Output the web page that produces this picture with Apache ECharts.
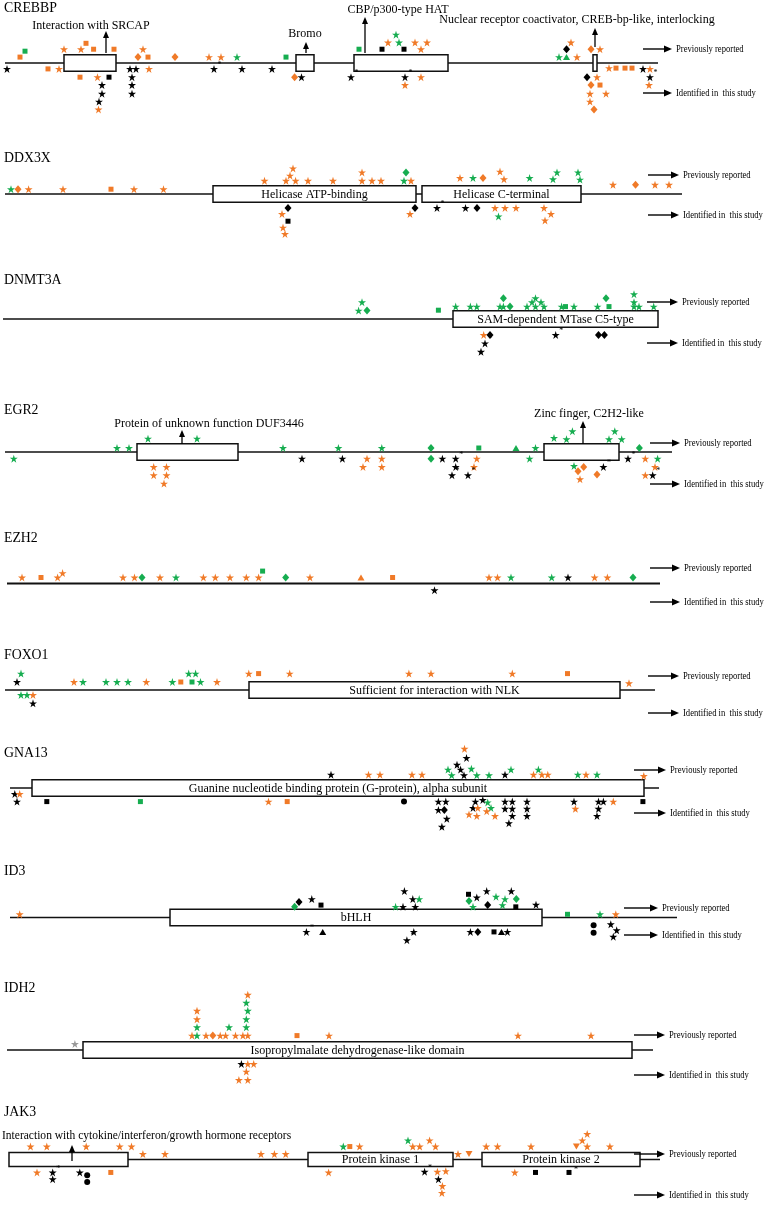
<!DOCTYPE html>
<html><head><meta charset="utf-8">
<script src="https://cdn.jsdelivr.net/npm/echarts/dist/echarts.min.js"></script>
<style>html,body{margin:0;padding:0;background:#fff}#c{width:768px;height:1214px}</style>
</head><body><div id="c"></div>
<script>
// ---- DATA: [position, stack level (+ above = previously reported, - below = this study), shape, colour, asterisk] ----
const CREBBP_line = [5, 658];
const CREBBP_domains = [[64,116,''],[296,314,''],[354,448,''],[593,597,'']];
const CREBBP_muts = [
[20,0.75,'sq','o'],[25,1.5,'sq','g'],[64,1.75,'st','o'],[81,1.75,'st','o'],[86,2.5,'sq','o'],[93.6,1.75,'sq','o'],[114,1.75,'sq','o'],
[143,1.75,'st','o'],[138,0.75,'di','o'],[148,0.75,'sq','o'],[175,0.75,'di','o'],[209,0.75,'st','o'],[221,0.75,'st','o'],[237,0.75,'st','g'],
[286,0.75,'sq','g'],[359,1.75,'sq','g'],[388,2.6,'st','o'],[396,3.6,'st','g'],[399,2.6,'st','g'],[382,1.75,'sq','k'],[404,1.75,'sq','k'],
[415,2.6,'st','o'],[427,2.6,'st','o'],[421,1.75,'st','o'],[566.5,1.75,'di','k'],[571,2.6,'st','o'],[559,0.75,'st','g'],[566.5,0.75,'tr','g'],
[577,0.75,'st','o'],[591,1.75,'di','o'],[600,1.75,'st','o'],
[609,-0.65,'st','o'],[616,-0.65,'sq','o'],[625,-0.65,'sq','o'],[632,-0.65,'sq','o'],
[7,-0.75,'st','k'],[48,-0.75,'sq','o'],[59,-0.75,'st','o'],[80,-1.8,'sq','o'],[97.5,-1.8,'st','o'],[109,-1.8,'sq','k'],
[102,-2.8,'st','k'],[102,-3.9,'st','k'],[99,-4.9,'st','k'],[98.5,-5.9,'st','o'],
[130,-0.75,'st','k'],[136,-0.75,'st','k'],[149,-0.75,'st','o'],[132,-1.8,'st','k'],[132,-2.8,'st','k'],[132,-3.9,'st','k'],
[214,-0.75,'st','k',1],[242,-0.75,'st','k'],[272,-0.75,'st','k'],[294.6,-1.8,'di','o'],[301.5,-1.8,'st','k'],
[351,-1.8,'st','k',1],[405,-1.8,'st','k',1],[421,-1.8,'st','o'],[405,-2.8,'st','o'],
[587,-1.8,'di','k'],[597,-1.8,'st','o'],[591,-2.8,'di','o'],[600,-2.8,'sq','o'],[590,-3.9,'st','o'],[606,-3.9,'st','o'],
[590,-4.9,'st','o'],[594,-5.9,'di','o'],
[643,-0.75,'st','k'],[650,-0.75,'st','o'],[650,-1.8,'st','k',1],[649,-2.8,'st','o']
];

const DDX3X_line = [5, 682];
const DDX3X_domains = [[213,416,'Helicase ATP-binding'],[422,581,'Helicase C-terminal']];
const DDX3X_muts = [
[11,0.6,'st','g'],[18,0.6,'di','o'],[28.6,0.6,'st','o'],[63,0.6,'st','o'],[111,0.6,'sq','o'],[134,0.6,'st','o'],[163.5,0.6,'st','o'],
[264.5,1.65,'st','o'],[286,1.65,'st','o'],[295.6,1.65,'st','o'],[290,2.3,'st','o'],[293,3.2,'st','o'],[308,1.65,'st','o'],[333,1.65,'st','o'],
[362,2.7,'st','o'],[362,1.65,'st','o'],[372,1.65,'st','o'],[381,1.65,'st','o'],[406,2.7,'di','g'],[404,1.65,'st','g'],[411,1.65,'st','o'],
[460,2.0,'st','o'],[473,2.0,'st','g'],[483,2.0,'di','o'],[500,2.8,'st','o'],[504,1.85,'st','o'],[529.6,2.0,'st','g'],
[557,2.7,'st','g'],[553,1.85,'st','g'],[578,2.7,'st','g'],[580,1.8,'st','g'],
[613,1.15,'st','o'],[635.5,1.15,'di','o'],[655,1.15,'st','o'],[669,1.15,'st','o'],
[288,-1.75,'di','k'],[282,-2.5,'st','o'],[288,-3.4,'sq','k'],[283,-4.2,'st','o'],[285,-5,'st','o'],
[415,-1.75,'di','k'],[410,-2.5,'st','o'],[437,-1.75,'st','k',1],[465.5,-1.75,'st','k'],[477,-1.75,'di','k'],
[495,-1.75,'st','o'],[505,-1.75,'st','o'],[516,-1.75,'st','o'],[498.5,-2.8,'st','g'],
[544,-1.75,'st','o'],[551,-2.5,'st','o'],[545,-3.3,'st','o']
];

const DNMT3A_line = [3, 658];
const DNMT3A_domains = [[453,658,'SAM-dependent MTase C5-type']];
const DNMT3A_muts = [
[362,2.1,'st','g'],[358.6,1.05,'st','g'],[367,1.05,'di','g'],[438.4,1.1,'sq','g'],
[455.7,1.55,'st','g'],[470.4,1.55,'st','g'],[476.8,1.55,'st','g'],
[503.4,2.6,'di','g'],[500,1.55,'st','g'],[503.4,1.55,'st','g'],[510,1.55,'di','g'],
[527,1.55,'st','g'],[532,2.1,'st','g'],[535.5,2.6,'st','g'],[535.5,1.55,'st','g'],[541,2.1,'st','g'],[544,1.55,'st','g'],
[561.6,1.55,'st','g'],[565.5,1.55,'sq','g'],[574,1.55,'st','g'],[597.5,1.55,'st','g'],[606,2.6,'di','g'],[609,1.55,'sq','g'],
[634,3.1,'st','g'],[634,2.1,'st','g'],[634,1.55,'st','g'],[639,1.55,'st','g'],[653.7,1.55,'st','g'],
[483.7,-2.0,'st','o'],[490,-2.0,'di','k'],[485,-3.05,'st','k',1],[481,-4.1,'st','k'],[555.7,-2.0,'st','k',1],
[598.5,-2.0,'di','k'],[604.4,-2.0,'di','k']
];

const EGR2_line = [5, 672];
const EGR2_domains = [[137,238,''],[544,619,'']];
const EGR2_muts = [
[13.8,-0.83,'st','g'],[117,0.5,'st','g'],[129,0.5,'st','g'],[148,1.67,'st','g'],[197,1.67,'st','g'],
[283,0.5,'st','g'],[338.4,0.5,'st','g'],[381.8,0.5,'st','g'],[431,0.5,'di','g'],[478.8,0.5,'sq','g'],[516,0.5,'tr','g'],[535.5,0.5,'st','g'],
[554,1.75,'st','g'],[566.5,1.6,'st','g'],[572.4,2.6,'st','g'],[614.8,2.6,'st','g'],[609,1.6,'st','g'],[621.7,1.6,'st','g'],[639.4,0.5,'di','g'],
[153.7,-1.87,'st','o'],[166.5,-1.87,'st','o'],[153.7,-2.9,'st','o'],[166.5,-2.9,'st','o'],[164,-3.95,'st','o'],
[302,-0.83,'st','k'],[342.4,-0.83,'st','k'],[367,-0.83,'st','o'],[381.8,-0.83,'st','o'],[363,-1.87,'st','o'],[381.8,-1.87,'st','o'],
[431,-0.83,'di','g'],[442.4,-0.83,'st','k'],[455.7,-0.83,'st','k',1],[476.8,-0.83,'st','o'],[455.7,-1.87,'st','k'],[474,-1.87,'st','o'],
[452,-2.9,'st','k',1],[468,-2.9,'st','k',1],[529.6,-0.83,'st','g'],
[574,-1.75,'st','g'],[583.7,-1.87,'di','o'],[578,-2.4,'di','o'],[597,-2.8,'di','o'],[580,-3.4,'st','o'],[603.4,-1.87,'st','k',1],
[628,-0.83,'st','k',1],[645.3,-0.83,'st','o'],[657.6,-0.83,'st','g'],[655,-1.87,'st','o'],[645.3,-2.9,'st','o'],[652.7,-2.9,'st','k',1]
];

const EZH2_line = [7, 660];
const EZH2_domains = [];
const EZH2_muts = [
[22,0.75,'st','o'],[41,0.75,'sq','o'],[57.6,0.75,'st','o'],[62.6,1.3,'st','o'],[123,0.75,'st','o'],[134.5,0.75,'st','o'],[142,0.75,'di','g'],
[160,0.75,'st','o'],[176,0.75,'st','g'],[203.4,0.75,'st','o'],[215.3,0.75,'st','o'],[230,0.75,'st','o'],[246.3,0.75,'st','o'],[258.6,0.75,'st','o'],
[262.6,1.55,'sq','g'],[285.7,0.75,'di','g'],[310,0.75,'st','o'],[361,0.75,'tr','o'],[392.6,0.75,'sq','o'],
[489,0.75,'st','o'],[497.5,0.75,'st','o'],[511,0.75,'st','g'],[551.7,0.75,'st','g'],[568,0.75,'st','k'],
[594.6,0.75,'st','o'],[607.4,0.75,'st','o'],[633,0.75,'di','g'],
[434.5,-0.84,'st','k']
];

const FOXO1_line = [5, 655];
const FOXO1_domains = [[249,620,'Sufficient for interaction with NLK']];
const FOXO1_muts = [
[21,2.05,'st','g'],[17,1.0,'st','k'],[74,1.0,'st','o'],[83,1.0,'st','g'],[106,1.0,'st','g'],[117,1.0,'st','g'],[128,1.0,'st','g'],[146.3,1.0,'st','o'],
[172.4,1.0,'st','g'],[180.8,1.0,'sq','o'],[188.7,2.05,'st','g'],[195.6,2.05,'st','g'],[192,1.0,'sq','g'],[200.5,1.0,'st','g'],[217,1.0,'st','o'],
[248.8,2.05,'st','o'],[258.6,2.05,'sq','o'],[289.7,2.05,'st','o'],[408.9,2.05,'st','o'],[431,2.05,'st','o'],[512.3,2.05,'st','o'],[567.5,2.05,'sq','o'],
[629,0.85,'st','o'],
[21,-0.62,'st','g'],[27,-0.62,'st','g'],[33,-0.62,'st','o'],[33,-1.67,'st','k']
];

const GNA13_line = [10, 659];
const GNA13_domains = [[32,644,'Guanine nucleotide binding protein (G-protein), alpha subunit']];
const GNA13_muts = [
[331,1.67,'st','k'],[368.5,1.67,'st','o'],[380,1.67,'st','o'],[412,1.67,'st','o'],[422,1.67,'st','o'],
[448,2.3,'st','g'],[451.7,1.6,'st','g'],[457,2.9,'st','k'],[460.6,2.3,'st','k'],[464,1.6,'st','k'],[466.5,3.75,'st','k'],[464.5,4.9,'st','o'],
[471.4,2.4,'st','g'],[476.8,1.6,'st','g'],[489,1.6,'st','g'],[505,1.67,'st','k'],[511,2.3,'st','g'],
[533.5,1.67,'st','o'],[538.4,2.3,'st','g'],[541.9,1.67,'st','o'],[547.8,1.67,'st','o'],
[577.8,1.67,'st','g'],[586,1.67,'st','o'],[597,1.67,'st','g'],[643.8,1.5,'st','o'],
[14.8,-0.75,'st','k'],[19.7,-0.75,'st','o'],[17,-1.7,'st','k'],
[46.8,-1.7,'sq','k'],[140.4,-1.7,'sq','g'],[268.5,-1.7,'st','o'],[287.2,-1.7,'sq','o'],[404,-1.7,'ci','k'],
[438.4,-1.7,'st','k'],[445.8,-1.7,'st','k'],[438.4,-2.75,'st','k'],[444.3,-2.75,'di','k'],[446.8,-3.85,'st','k'],[441.9,-4.85,'st','k'],
[475.4,-1.7,'st','k'],[482.8,-1.5,'st','k'],[487.7,-1.8,'st','g'],[473,-2.5,'st','k'],[477.8,-2.5,'st','o'],[491,-2.5,'st','g'],
[486.7,-2.9,'st','o'],[469,-3.3,'st','o'],[476.8,-3.5,'st','o'],[495,-3.5,'st','o'],
[505,-1.7,'st','k'],[512.3,-1.7,'st','k'],[505,-2.6,'st','k'],[512.3,-2.6,'st','k'],[512.3,-3.5,'st','k'],[508.9,-4.4,'st','k'],
[527,-1.7,'st','k'],[527,-2.6,'st','k'],[527,-3.5,'st','k'],[574,-1.7,'st','k'],[575.4,-2.6,'st','o'],
[598.5,-1.7,'st','k'],[603.4,-1.7,'st','k'],[613.3,-1.7,'st','o'],[598.5,-2.6,'st','k'],[597,-3.5,'st','k'],
[642.9,-1.7,'sq','k']
];

const ID3_line = [10, 677];
const ID3_domains = [[170,542,'bHLH']];
const ID3_muts = [
[19.7,0.4,'st','o'],[294.6,1.33,'di','g'],[299,1.95,'di','k'],[311.8,2.3,'st','k'],[321,1.55,'sq','k'],
[395.6,1.33,'st','g'],[403,1.33,'st','k'],[415.3,1.33,'st','k'],[412.8,2.3,'st','k'],[419.2,2.3,'st','g'],[404.4,3.3,'st','k'],
[468.5,2.9,'sq','k'],[476.8,2.5,'st','k'],[486.7,3.3,'st','k'],[469,2.05,'di','g'],[473,1.33,'st','g'],[487.7,1.55,'di','k'],
[496,2.6,'st','g'],[505,2.3,'st','g'],[502.5,1.55,'st','g'],[511.3,3.3,'st','k'],[516.3,2.3,'di','g'],[515.8,1.33,'sq','k'],[536,1.6,'st','k'],
[567.5,0.4,'sq','g'],[600,0.4,'st','g'],[615.8,0.4,'st','o'],
[306.4,-1.8,'st','k',1],[322.7,-1.8,'tr','k'],[413.8,-1.8,'st','k'],[406.9,-2.84,'st','k',1],
[470.4,-1.8,'st','k'],[477.8,-1.8,'di','k'],[494,-1.8,'sq','k'],[501.5,-1.8,'tr','k'],[507.4,-1.8,'st','k'],
[593.6,-0.96,'ci','k'],[593.6,-1.9,'ci','k'],[610.8,-0.85,'st','k'],[616.7,-1.6,'st','k'],[613.3,-2.4,'st','k']
];

const IDH2_line = [7, 653];
const IDH2_domains = [[83,632,'Isopropylmalate dehydrogenase-like domain']];
const IDH2_muts = [
[74.9,0.75,'st','y'],[192,1.8,'st','o'],[197,1.8,'st','g'],[197,2.84,'st','g'],[197,3.84,'st','o'],[197,4.9,'st','o'],
[206,1.8,'st','o'],[212.8,1.8,'di','o'],[220.2,1.8,'st','o'],[225.6,1.8,'st','o'],[229,2.84,'st','g'],[235.5,1.8,'st','o'],
[242.9,1.8,'st','o'],[247.8,1.8,'st','o'],[246.3,2.84,'st','g'],[246.3,3.84,'st','g'],[247.8,4.9,'st','g'],[246.3,5.9,'st','g'],[247.8,6.9,'st','o'],
[297,1.8,'sq','o'],[329,1.8,'st','o'],[518,1.8,'st','o'],[591,1.8,'st','o'],
[241.4,-1.75,'st','k'],[247.8,-1.75,'st','o'],[253.7,-1.75,'st','o'],[246.3,-2.7,'st','o'],[238.9,-3.75,'st','o'],[247.8,-3.75,'st','o']
];

const JAK3_line = [9, 660];
const JAK3_domains = [[9,128,''],[308,453,'Protein kinase 1'],[482,640,'Protein kinase 2']];
const JAK3_muts = [
[30.5,1.9,'st','o'],[46.8,1.9,'st','o'],[86.2,1.9,'st','o'],[119.7,1.9,'st','o'],[131.5,1.9,'st','o'],
[142.9,0.8,'st','o'],[165,0.8,'st','o'],[261,0.8,'st','o'],[274.4,0.8,'st','o'],[285.7,0.8,'st','o'],
[343.3,1.9,'st','g'],[349.8,1.9,'sq','o'],[359.6,1.9,'st','o'],[408,2.8,'st','g'],[429.6,2.8,'st','o'],
[412.8,1.9,'st','o'],[419.7,1.9,'st','o'],[435.5,1.9,'st','o'],[458,0.8,'st','o'],[469,0.8,'it','o'],
[486.2,1.9,'st','o'],[497.5,1.9,'st','o'],[531,1.9,'st','o'],[576.4,1.9,'it','o'],[587.2,1.9,'st','o'],[582.3,2.8,'st','o'],[587.2,3.75,'st','o'],[609.9,1.9,'st','o'],
[37,-1.9,'st','o'],[52.7,-1.9,'st','k',1],[52.7,-2.9,'st','k'],[79.8,-1.9,'st','k'],[87.2,-2.3,'ci','k'],[87.2,-3.3,'ci','k'],[110.8,-1.9,'sq','o'],
[328.6,-1.9,'st','o'],[424.6,-1.8,'st','k',1],[437.4,-1.8,'st','o'],[445.8,-1.7,'st','o'],[438.4,-2.9,'st','k'],[442.4,-3.9,'st','o'],[441.9,-4.9,'st','o'],
[514.8,-1.9,'st','o'],[535.5,-1.9,'sq','k'],[569,-1.9,'sq','k',1]
];

const GENES = ['CREBBP','DDX3X','DNMT3A','EGR2','EZH2','FOXO1','GNA13','ID3','IDH2','JAK3'];
const LEGEND_TEXT = ['Previously reported', 'Identified in  this study'];

// ---- LAYOUT / STYLE ----
const FONT = '"Liberation Serif", "Times New Roman", serif';
const U = 8;            // px per stack level
const YR = 8;           // y-axis half range (levels)
const BOX_H = 1.04;     // half box height (levels)
const COLORS = {o:'#F07A28', g:'#16AD50', k:'#000000', y:'#999999'};
const STAR = 'path://M50,0L61.2,34.5L97.6,34.5L68.2,55.9L79.4,90.5L50,69.1L20.6,90.5L31.8,55.9L2.4,34.5L38.8,34.5Z';
const SYMBOLS = {st:STAR, sq:'rect', di:'diamond', tr:'triangle', ci:'circle', it:'path://M0,0L10,0L5,9Z'};
const SIZES = {st:[8,8], sq:[5,5], di:[7,8], tr:[7,6], ci:[6,6], it:[7,6]};

const DATA = {
  CREBBP:[CREBBP_line,CREBBP_domains,CREBBP_muts], DDX3X:[DDX3X_line,DDX3X_domains,DDX3X_muts],
  DNMT3A:[DNMT3A_line,DNMT3A_domains,DNMT3A_muts], EGR2:[EGR2_line,EGR2_domains,EGR2_muts],
  EZH2:[EZH2_line,EZH2_domains,EZH2_muts], FOXO1:[FOXO1_line,FOXO1_domains,FOXO1_muts],
  GNA13:[GNA13_line,GNA13_domains,GNA13_muts], ID3:[ID3_line,ID3_domains,ID3_muts],
  IDH2:[IDH2_line,IDH2_domains,IDH2_muts], JAK3:[JAK3_line,JAK3_domains,JAK3_muts]
};
// panel layout: baseline y, title y, legend [arrowX0, arrowX1, prevY, identY], line width
const LAYOUT = {
  CREBBP:{y:62, ty:8, lg:[643,672,49,93]},
  DDX3X:{y:194, ty:158, lg:[648,679,175,215]},
  DNMT3A:{y:319, ty:280, lg:[647,678,302,343]},
  EGR2:{y:452, ty:410, lg:[650,680,443,484]},
  EZH2:{y:583.5, ty:538, lg:[650,680,568,602], lw:2},
  FOXO1:{y:690, ty:655, lg:[648,679,676,713]},
  GNA13:{y:788, ty:753, lg:[634,666,770,813]},
  ID3:{y:917.5, ty:871, lg:[624,658,908,935]},
  IDH2:{y:1050, ty:988, lg:[634,665,1035,1075]},
  JAK3:{y:1169, ty:1112, lg:[634,665,1154,1195]}
};

const grids=[], xAxes=[], yAxes=[], series=[], gfx=[];
function txt(x,y,s,size,align,sx){
  gfx.push({type:'text', x, y, z:10, scaleX:sx||1, style:{text:s, font:size+'px '+FONT, fill:'#000',
    align:align||'left', verticalAlign:'middle', textAlign:align||'left', textVerticalAlign:'middle'}});
}
function arrowUp(x,yb,yt){
  gfx.push({type:'line', z:10, shape:{x1:x,y1:yb,x2:x,y2:yt+5}, style:{stroke:'#000', lineWidth:1.3}});
  gfx.push({type:'polygon', z:10, shape:{points:[[x,yt],[x-3,yt+7],[x+3,yt+7]]}, style:{fill:'#000'}});
}
function arrowRight(x0,x1,y){
  gfx.push({type:'line', z:10, shape:{x1:x0,y1:y,x2:x1-5,y2:y}, style:{stroke:'#000', lineWidth:1.4}});
  gfx.push({type:'polygon', z:10, shape:{points:[[x1,y],[x1-8,y-3.5],[x1-8,y+3.5]]}, style:{fill:'#000'}});
}

GENES.forEach((g,i)=>{
  const [line, domains, muts] = DATA[g];
  const L = LAYOUT[g];
  grids.push({left:0, width:768, top:L.y - YR*U, height:2*YR*U, containLabel:false});
  xAxes.push({type:'value', gridIndex:i, min:0, max:768, show:false});
  yAxes.push({type:'value', gridIndex:i, min:-YR, max:YR, show:false});
  series.push({type:'line', xAxisIndex:i, yAxisIndex:i, data:[[line[0],0],[line[1],0]], showSymbol:false, silent:true,
    lineStyle:{color:'#111', width:L.lw||1.5}, z:1, animation:false});
  if (domains.length) series.push({type:'custom', xAxisIndex:i, yAxisIndex:i, z:2, silent:true, animation:false,
    data: domains.map(d=>[d[0], d[1]]),
    renderItem:(params, api)=>{
      const d = domains[params.dataIndex];
      const p0 = api.coord([d[0], BOX_H]), p1 = api.coord([d[1], -BOX_H]);
      return {type:'group', children:[
        {type:'rect', shape:{x:p0[0], y:p0[1], width:p1[0]-p0[0], height:p1[1]-p0[1]},
          style:{fill:'#fff', stroke:'#111', lineWidth:1.5}},
        {type:'text', x:(p0[0]+p1[0])/2, y:(p0[1]+p1[1])/2+0.5,
          style:{text:d[2], font:'12px '+FONT, fill:'#000', align:'center', verticalAlign:'middle', textAlign:'center', textVerticalAlign:'middle'}}
      ]};
    }});
  series.push({type:'scatter', xAxisIndex:i, yAxisIndex:i, z:3, clip:false, silent:true, animation:false,
    itemStyle:{opacity:1},
    data: muts.map(m=>({value:[m[0], m[1]], symbol:SYMBOLS[m[2]], symbolSize:SIZES[m[2]], symbolKeepAspect:false,
      itemStyle:{color:COLORS[m[3]], opacity:1},
      label: m[4] ? {show:true, formatter:'*', position:[7.5,-4], fontSize:8, color:'#000', fontFamily:FONT} : {show:false}}))
  });
  // title and legend
  txt(4, L.ty, g, 15, 'left', 0.92);
  arrowRight(L.lg[0], L.lg[1], L.lg[2]); txt(L.lg[1]+4, L.lg[2], LEGEND_TEXT[0], 10.5, 'left', 0.82);
  arrowRight(L.lg[0], L.lg[1], L.lg[3]); txt(L.lg[1]+4, L.lg[3], LEGEND_TEXT[1], 10.5, 'left', 0.82);
});

// domain annotations (outside the boxes)
txt(91, 26, 'Interaction with SRCAP', 12, 'center'); arrowUp(106, 53, 31);
txt(305, 34, 'Bromo', 12, 'center'); arrowUp(306, 53, 42);
txt(398, 10, 'CBP/p300-type HAT', 12, 'center'); arrowUp(365, 53, 17);
txt(577, 20, 'Nuclear receptor coactivator, CREB-bp-like, interlocking', 12, 'center'); arrowUp(595, 47, 28);
txt(209, 424, 'Protein of unknown function DUF3446', 12, 'center'); arrowUp(182, 444, 430);
txt(589, 414, 'Zinc finger, C2H2-like', 12, 'center'); arrowUp(583, 444, 421);
txt(2, 1136, 'Interaction with cytokine/interferon/growth hormone receptors', 12, 'left', 0.96); arrowUp(72, 1161, 1145);

const chart = echarts.init(document.getElementById('c'), null, {renderer:'canvas'});
chart.setOption({animation:false, backgroundColor:'#fff', grid:grids, xAxis:xAxes, yAxis:yAxes, series, graphic:gfx});
</script></body></html>
